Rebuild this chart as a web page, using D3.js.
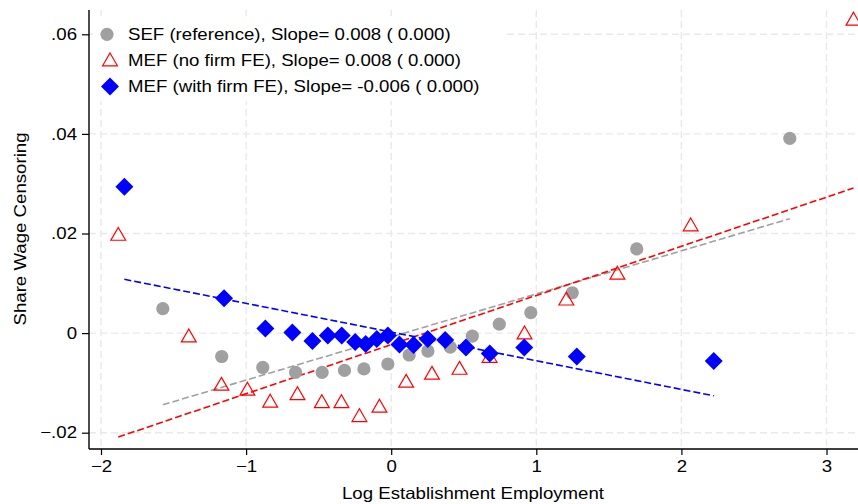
<!DOCTYPE html>
<html>
<head>
<meta charset="utf-8">
<script src="https://cdn.jsdelivr.net/npm/d3@7"></script>
<style>
  body { margin: 0; background: #fff; }
  svg { display: block; font-family: "Liberation Sans", Arial, sans-serif; }
</style>
</head>
<body>
<svg id="chart" width="858" height="504"></svg>
<script>
// binned means
const sefX = [-1.574, -1.168, -0.885, -0.659, -0.476, -0.322, -0.188, -0.023, 0.124, 0.253, 0.407, 0.559, 0.745, 0.962, 1.248, 1.692, 2.747];
const sefY = [0.0049, -0.0047, -0.0069, -0.0079, -0.0079, -0.0075, -0.0072, -0.0062, -0.0044, -0.0036, -0.0028, -0.0006, 0.0018, 0.0041, 0.0081, 0.0169, 0.0391];

const mefX = [-1.881, -1.395, -1.170, -0.991, -0.834, -0.646, -0.478, -0.343, -0.219, -0.081, 0.103, 0.281, 0.471, 0.678, 0.919, 1.207, 1.559, 2.064, 3.186];
const mefY = [0.0197, -0.0007, -0.0104, -0.0114, -0.0138, -0.0123, -0.0139, -0.0139, -0.0167, -0.0148, -0.0098, -0.0082, -0.0072, -0.0048, -0.0001, 0.0067, 0.0119, 0.0216, 0.0629];

const feX = [-1.839, -1.152, -0.867, -0.681, -0.543, -0.437, -0.341, -0.248, -0.176, -0.099, -0.023, 0.057, 0.154, 0.252, 0.372, 0.515, 0.679, 0.917, 1.279, 2.223];
const feY = [0.0294, 0.0070, 0.0009, 0.0001, -0.0016, -0.0005, -0.0005, -0.0018, -0.0022, -0.0012, -0.0005, -0.0023, -0.0024, -0.0012, -0.0014, -0.0029, -0.0041, -0.0029, -0.0047, -0.0056];

// linear fits: intercept, slope (as drawn)
const fitNames = ["sef", "mef", "fe"];
const fitIntercept = [-0.00078, -0.00231, 0.00021];
const fitSlope = [0.00865, 0.00987, -0.00576];

const xTicks = [-2, -1, 0, 1, 2, 3];
const yTicks = [-0.02, 0, 0.02, 0.04, 0.06];
const legendLabels = [
  "SEF (reference), Slope= 0.008 ( 0.000)",
  "MEF (no firm FE), Slope= 0.008 ( 0.000)",
  "MEF (with firm FE), Slope= -0.006 ( 0.000)"
];

const svg = d3.select("#chart");
const padL = 89, padT = 10, padB = 449, padR = 900;
const fs = 16.5, sx = 1.13; // stata text runs a bit wider than liberation

const x = d3.scaleLinear().domain([-2, 3]).range([101, 826.5]);
const y = d3.scaleLinear().domain([-0.02, 0.06]).range([432.7, 34.3]);

// stretch text horizontally around its own x
function widen(sel) {
  sel.each(function() {
    const t = d3.select(this);
    const tx = +t.attr("x") || 0;
    const prev = t.attr("transform") || "";
    t.attr("transform", `${prev} translate(${tx * (1 - sx)},0) scale(${sx},1)`);
  });
}

// grid
const grid = svg.append("g").attr("stroke", "#e9e9e9").attr("stroke-width", 1.4).attr("stroke-dasharray", "7,4");
grid.selectAll(".gx").data(xTicks).join("line")
  .attr("x1", d => x(d)).attr("x2", d => x(d)).attr("y1", padT).attr("y2", padB);
grid.selectAll(".gy").data(yTicks).join("line")
  .attr("x1", padL).attr("x2", padR).attr("y1", d => y(d)).attr("y2", d => y(d));

// axes
const xAxis = svg.append("g").attr("transform", `translate(0,${padB})`)
  .call(d3.axisBottom(x).tickValues(xTicks).tickSize(6).tickPadding(5).tickFormat(d3.format("d")));
const yAxis = svg.append("g").attr("transform", `translate(${padL},0)`)
  .call(d3.axisLeft(y).tickValues(yTicks).tickSize(7).tickPadding(5)
    .tickFormat(d => d === 0 ? "0" : d3.format(".2f")(d).replace("0.", ".")));
[xAxis, yAxis].forEach(a => {
  a.select(".domain").remove();
  a.selectAll("line").attr("stroke", "#000").attr("stroke-width", 1.2);
  a.selectAll("text").attr("font-size", fs).attr("fill", "#000").attr("font-family", null).call(widen);
});
svg.append("line").attr("x1", padL).attr("x2", padL).attr("y1", padT).attr("y2", padB).attr("stroke", "#000").attr("stroke-width", 1.4);
svg.append("line").attr("x1", padL).attr("x2", padR).attr("y1", padB).attr("y2", padB).attr("stroke", "#000").attr("stroke-width", 1.4);

svg.append("text").attr("x", 473).attr("y", 499).attr("text-anchor", "middle")
  .attr("font-size", fs).text("Log Establishment Employment").call(widen);
svg.append("text").attr("transform", "translate(26,229) rotate(-90)").attr("text-anchor", "middle")
  .attr("font-size", fs).text("Share Wage Censoring").call(widen);

// fit lines
const fitColors = ["#a0a0a0", "#ff0000", "#0000ff"];
const xsets = [sefX, mefX, feX];
fitNames.forEach((n, i) => {
  const ext = d3.extent(xsets[i]);
  svg.append("line")
    .attr("x1", x(ext[0])).attr("y1", y(fitIntercept[i] + fitSlope[i] * ext[0]))
    .attr("x2", x(ext[1])).attr("y2", y(fitIntercept[i] + fitSlope[i] * ext[1]))
    .attr("stroke", fitColors[i]).attr("stroke-width", 1.6).attr("stroke-dasharray", "7,3");
});

// markers
const tri = d3.symbol().type(d3.symbolTriangle).size(95);
const dia = [[0, -9], [9, 0], [0, 9], [-9, 0]];
function drawCircle(g, cx, cy) {
  g.append("circle").attr("cx", cx).attr("cy", cy).attr("r", 6.6).attr("fill", "#a0a0a0");
}
function drawTri(g, cx, cy) {
  g.append("path").attr("d", tri()).attr("transform", `translate(${cx},${cy + 1})`)
    .attr("fill", "none").attr("stroke", "#ff0000").attr("stroke-width", 1.2);
}
function drawDia(g, cx, cy) {
  g.append("polygon").attr("points", dia.map(p => [p[0] + cx, p[1] + cy].join(",")).join(" ")).attr("fill", "#0000ff");
}

const pts = svg.append("g");
sefX.forEach((v, i) => drawCircle(pts, x(v), y(sefY[i])));
mefX.forEach((v, i) => drawTri(pts, x(v), y(mefY[i])));
feX.forEach((v, i) => drawDia(pts, x(v), y(feY[i])));

// legend
const lg = svg.append("g");
lg.append("rect").attr("x", 93).attr("y", 16).attr("width", 413).attr("height", 85).attr("fill", "#fff");
const rows = [34.3, 60.5, 86.5];
drawCircle(lg, 107, rows[0]);
drawTri(lg, 110, rows[1]);
drawDia(lg, 110, rows[2]);
legendLabels.forEach((t, i) => {
  lg.append("text").attr("x", 128).attr("y", rows[i] + 6).attr("font-size", fs).text(t).call(widen);
});
</script>
</body>
</html>
